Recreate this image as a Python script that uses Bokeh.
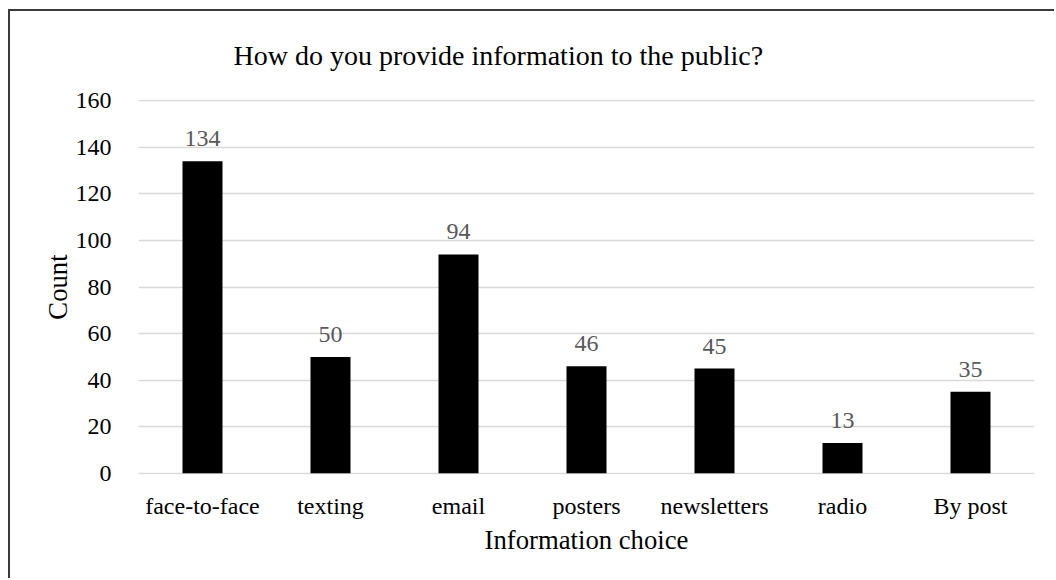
from bokeh.plotting import figure
from bokeh.models import ColumnDataSource, LabelSet, FixedTicker, Range1d, Title
from bokeh.embed import file_html
from bokeh.resources import INLINE

categories = ["face-to-face", "texting", "email", "posters", "newsletters", "radio", "By post"]
counts = [134, 50, 94, 46, 45, 13, 35]
y_ticks = [0, 20, 40, 60, 80, 100, 120, 140, 160]
title_text = "How do you provide information to the public?"
x_title = "Information choice"
y_title = "Count"

FONT = "Liberation Serif"

src = ColumnDataSource(dict(cat=categories, val=counts, lab=[str(v) for v in counts]))

p = figure(
    x_range=categories,
    y_range=Range1d(-0.5, 160.5),
    width=1046, height=569,
    output_backend="svg", toolbar_location=None,
    min_border_left=128, min_border_right=22,
    min_border_top=88, min_border_bottom=106,
    outline_line_color=None,
)
p.styles = {"margin-left": "8px", "margin-top": "9px",
            "border-left": "2px solid #3a3a3a", "border-top": "2px solid #3a3a3a"}

t = Title(text=title_text, text_font=FONT, text_font_size="28px",
          text_font_style="normal", text_color="#000000",
          align="left", offset=95, standoff=53, vertical_align="top")
p.add_layout(t, "above")

p.vbar(x="cat", top="val", bottom=0, width=0.3125, source=src,
       fill_color="#000000", line_color=None, level="overlay")

labels = LabelSet(x="cat", y="val", text="lab", source=src, text_align="center",
                  text_baseline="alphabetic", y_offset=15, text_font=FONT,
                  text_font_size="24px", text_color="#595959")
p.add_layout(labels)

p.yaxis.ticker = FixedTicker(ticks=y_ticks)
p.xgrid.grid_line_color = None
p.ygrid.grid_line_color = "#d9d9d9"
p.ygrid.grid_line_width = 1.5

for ax in (p.xaxis, p.yaxis):
    ax.axis_line_color = None
    ax.major_tick_line_color = None
    ax.minor_tick_line_color = None
    ax.major_label_text_font = FONT
    ax.major_label_text_font_size = "24px"
    ax.major_label_text_color = "#000000"
    ax.axis_label_text_font = FONT
    ax.axis_label_text_font_size = "26.7px"
    ax.axis_label_text_font_style = "normal"
    ax.axis_label_text_color = "#000000"

p.xaxis.axis_label = x_title
p.yaxis.axis_label = y_title
p.xaxis.major_label_standoff = 12
p.xaxis.axis_label_standoff = 3
p.yaxis.major_label_standoff = 21
p.yaxis.axis_label_standoff = 0

open("out.html", "w").write(file_html(p, INLINE))
